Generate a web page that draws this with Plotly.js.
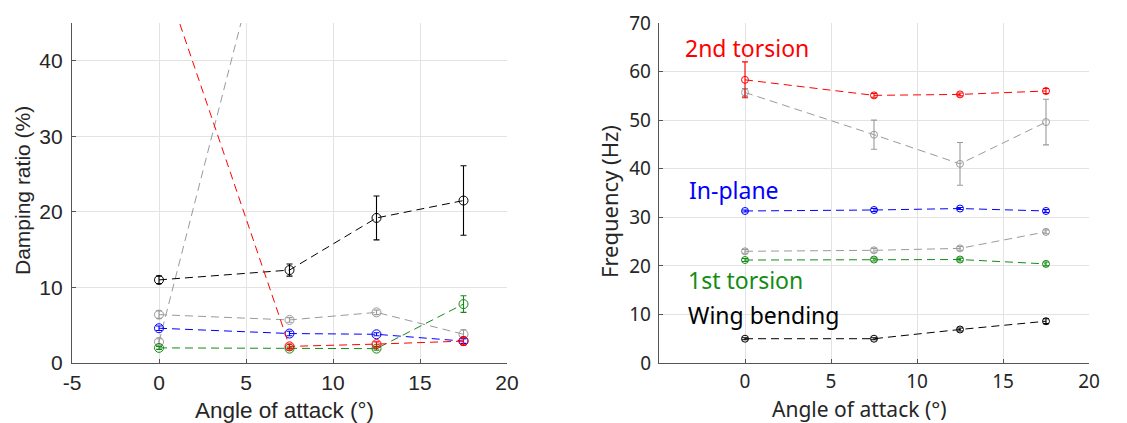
<!DOCTYPE html>
<html>
<head>
<meta charset="utf-8">
<script src="https://cdn.plot.ly/plotly-3.0.1.min.js"></script>
<style>html,body{margin:0;padding:0;background:#fff;}#chart{width:1127px;height:423px;}</style>
</head>
<body>
<div id="chart"></div>
<script>
// Angle of attack (deg)
const aoa = [0, 7.5, 12.5, 17.5];

// Damping ratio (%) and error half-widths
const dampBending = [11.0, 12.3, 19.2, 21.5];
const dampBendingErr = [0.5, 0.8, 2.9, 4.6];
const dampTorsion1 = [2.0, 1.9, 1.9, 7.8];
const dampTorsion1Err = [0.2, 0.2, 0.2, 1.1];
const dampInPlane = [4.6, 3.9, 3.8, 2.9];
const dampInPlaneErr = [0.3, 0.3, 0.2, 0.3];
const dampTorsion2 = [53.0, 2.2, 2.5, 2.9];
const dampTorsion2Err = [1.0, 0.3, 0.3, 0.5];
const dampGrayA = [6.4, 5.7, 6.7, 3.8];
const dampGrayAErr = [0.5, 0.3, 0.3, 0.6];
const dampGrayB = [2.8, 70.0, 75.0, 65.0];
const dampGrayBErr = [0.4, 1.0, 1.0, 1.0];

// Frequency (Hz) and error half-widths
const freqBending = [5.0, 5.0, 6.9, 8.6];
const freqBendingErr = [0.2, 0.2, 0.3, 0.5];
const freqTorsion1 = [21.2, 21.3, 21.3, 20.4];
const freqTorsion1Err = [0.3, 0.3, 0.3, 0.4];
const freqInPlane = [31.3, 31.5, 31.8, 31.3];
const freqInPlaneErr = [0.2, 0.3, 0.2, 0.3];
const freqTorsion2 = [58.3, 55.1, 55.3, 56.0];
const freqTorsion2Err = [3.7, 0.4, 0.3, 0.5];
const freqGrayA = [23.0, 23.2, 23.6, 27.0];
const freqGrayAErr = [0.4, 0.4, 0.4, 0.4];
const freqGrayB = [55.7, 47.0, 41.0, 49.6];
const freqGrayBErr = [0.8, 3.0, 4.4, 4.7];

// Tick labels
const leftXTickVals = [-5, 0, 5, 10, 15, 20];
const leftXTickText = ['-5', '0', '5', '10', '15', '20'];
const leftYTickVals = [0, 10, 20, 30, 40];
const rightXTickVals = [0, 5, 10, 15, 20];
const rightYTickVals = [0, 10, 20, 30, 40, 50, 60, 70];

// Titles
const xTitle = 'Angle of attack (°)';
const leftYTitle = 'Damping ratio (%)';
const rightYTitle = 'Frequency (Hz)';

// Mode labels (right panel)
const modeLabels = ['2nd torsion', 'In-plane', '1st torsion', 'Wing bending'];
const modeLabelX = [-3.6, -3.4, -3.45, -3.45];
const modeLabelY = [64.8, 35.7, 17.0, 9.8];

const RED = '#ff0000', BLUE = '#0000ff', GREEN = '#148c14', BLACK = '#000000', GRAY = '#9a9a9a';
const modeColors = [RED, BLUE, GREEN, BLACK];

function tr(y, err, color, xa, ya, msize) {
  return {
    x: aoa, y: y, xaxis: xa, yaxis: ya, type: 'scatter', mode: 'lines+markers',
    line: {color: color, width: 1, dash: '8px,5px'},
    marker: {symbol: 'circle-open', size: msize, color: color, line: {width: 1, color: color}},
    error_y: {type: 'data', array: err, visible: true, color: color, thickness: 1.1, width: 3},
    showlegend: false, hoverinfo: 'x+y'
  };
}

const data = [
  tr(dampGrayB, dampGrayBErr, GRAY, 'x', 'y', 9),
  tr(dampGrayA, dampGrayAErr, GRAY, 'x', 'y', 9),
  tr(dampBending, dampBendingErr, BLACK, 'x', 'y', 9),
  tr(dampTorsion1, dampTorsion1Err, GREEN, 'x', 'y', 9),
  tr(dampInPlane, dampInPlaneErr, BLUE, 'x', 'y', 9),
  tr(dampTorsion2, dampTorsion2Err, RED, 'x', 'y', 9),
  tr(freqGrayB, freqGrayBErr, GRAY, 'x2', 'y2', 7),
  tr(freqGrayA, freqGrayAErr, GRAY, 'x2', 'y2', 7),
  tr(freqBending, freqBendingErr, BLACK, 'x2', 'y2', 7),
  tr(freqTorsion1, freqTorsion1Err, GREEN, 'x2', 'y2', 7),
  tr(freqInPlane, freqInPlaneErr, BLUE, 'x2', 'y2', 7),
  tr(freqTorsion2, freqTorsion2Err, RED, 'x2', 'y2', 7)
];

const AX = '#262626';
const GRID = '#e3e3e3';
const LEFTFAM = 'Liberation Sans, Arial, sans-serif';
const RIGHTFAM = 'Noto Sans, Open Sans, sans-serif';
const W = 1127, H = 423;
const px = v => v / W, py = v => (H - v) / H;

const annotations = modeLabels.map((t, i) => ({
  x: modeLabelX[i], y: modeLabelY[i], xref: 'x2', yref: 'y2', text: t,
  showarrow: false, xanchor: 'left', yanchor: 'middle',
  font: {family: RIGHTFAM, size: 23, color: modeColors[i]}
}));
annotations.push(
  {x: px(22), y: py(191), xref: 'paper', yref: 'paper', text: leftYTitle, textangle: -90,
   showarrow: false, xanchor: 'center', yanchor: 'middle', font: {family: LEFTFAM, size: 21, color: AX}},
  {x: px(284), y: py(410), xref: 'paper', yref: 'paper', text: xTitle,
   showarrow: false, xanchor: 'center', yanchor: 'middle', font: {family: LEFTFAM, size: 22.5, color: AX}},
  {x: px(609), y: py(202), xref: 'paper', yref: 'paper', text: rightYTitle, textangle: -90,
   showarrow: false, xanchor: 'center', yanchor: 'middle', font: {family: RIGHTFAM, size: 22, color: AX}},
  {x: px(860), y: py(408.5), xref: 'paper', yref: 'paper', text: xTitle,
   showarrow: false, xanchor: 'center', yanchor: 'middle', font: {family: RIGHTFAM, size: 21, color: AX}}
);

const common = {
  showgrid: true, gridcolor: GRID, gridwidth: 1, zeroline: false,
  showline: true, linecolor: '#555555', linewidth: 1.2, ticks: 'inside', ticklen: 4, tickcolor: '#555555'
};

const layout = {
  width: W, height: H,
  margin: {l: 0, r: 0, t: 0, b: 0},
  paper_bgcolor: '#ffffff', plot_bgcolor: '#ffffff',
  showlegend: false,
  xaxis: Object.assign({}, common, {
    domain: [px(72), px(507)], range: [-5, 20], tickmode: 'array', tickvals: leftXTickVals, ticktext: leftXTickText,
    tickfont: {family: LEFTFAM, size: 21, color: AX}, ticklabelstandoff: 1, anchor: 'y'
  }),
  yaxis: Object.assign({}, common, {
    domain: [60/H, 400/H], range: [0, 45], tickmode: 'array', tickvals: leftYTickVals,
    tickfont: {family: LEFTFAM, size: 21, color: AX}, ticklabelstandoff: 4, anchor: 'x'
  }),
  xaxis2: Object.assign({}, common, {
    domain: [px(659), px(1089)], range: [-5, 20], tickmode: 'array', tickvals: rightXTickVals,
    tickfont: {family: RIGHTFAM, size: 19, color: AX}, ticklabelstandoff: 1, anchor: 'y2'
  }),
  yaxis2: Object.assign({}, common, {
    domain: [60/H, 400/H], range: [0, 70], tickmode: 'array', tickvals: rightYTickVals,
    tickfont: {family: RIGHTFAM, size: 19, color: AX}, ticklabelstandoff: 3, anchor: 'x2'
  }),
  annotations: annotations
};

Plotly.newPlot('chart', data, layout, {staticPlot: true, displayModeBar: false});
</script>
</body>
</html>
